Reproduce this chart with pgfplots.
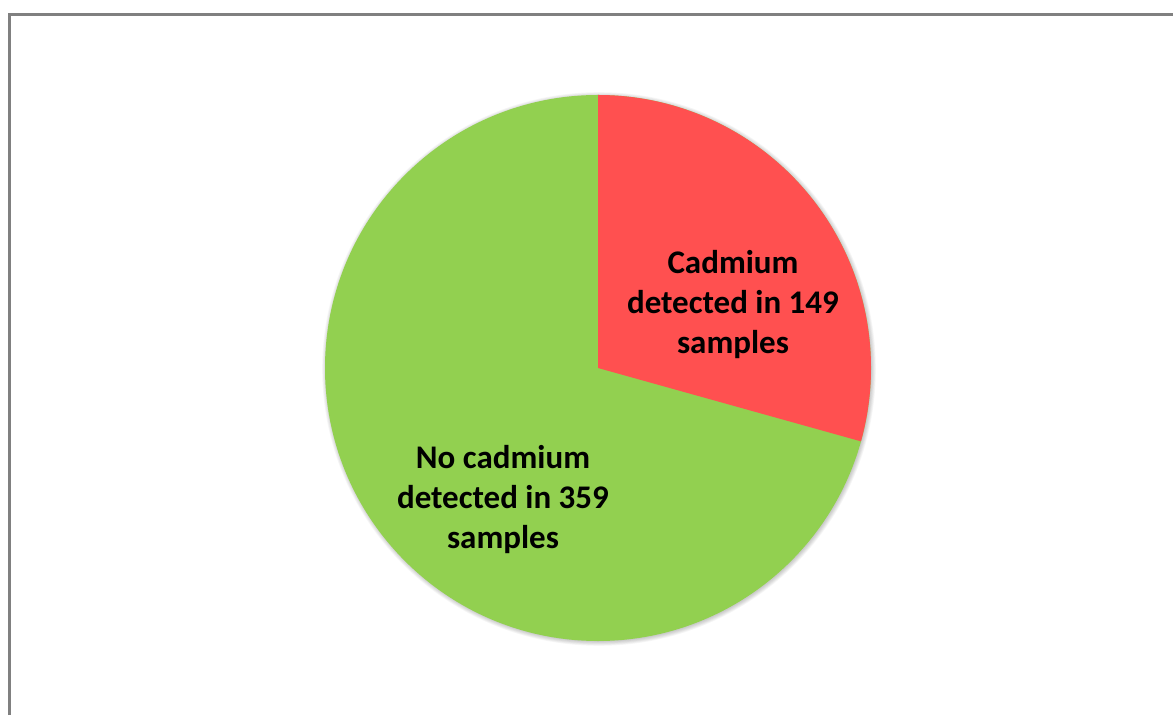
\documentclass[border=0pt]{standalone}
\usepackage{pgfplots}
\pgfplotsset{compat=1.18}
\usepackage{fontspec}
\setmainfont{Carlito}
\definecolor{cdred}{HTML}{FF5050}
\definecolor{cdgreen}{HTML}{92D050}
\definecolor{frame}{HTML}{808080}
\def\valA{149}
\def\valB{359}
\pgfmathsetmacro\angA{\valA/(\valA+\valB)*360}
\pgfmathsetmacro\endA{90-\angA}
\begin{document}
\begin{tikzpicture}
\begin{axis}[scale only axis, width=1173bp, height=715bp,
  xmin=0, xmax=1173, ymin=0, ymax=715, hide axis]
\fill[white] (axis cs:0,0) rectangle (axis cs:1173,715);
\draw[frame, line width=3bp] (axis cs:9.5,0) -- (axis cs:9.5,700.5) -- (axis cs:1173,700.5);
\pgfplotsinvokeforeach{1,...,6}{
  \fill[black, opacity=0.035] (axis cs:599,346) circle[radius={(272+#1*0.8)*1bp}];
}
\fill[cdgreen] (axis cs:598,347) circle[radius=273bp];
\fill[cdred] (axis cs:598,347) -- (axis cs:598,620) arc[start angle=90, end angle=\endA, radius=273bp] -- cycle;
\node[font=\fontsize{33bp}{40bp}\selectfont\bfseries, align=center, text=black] at (axis cs:733,410) {Cadmium\\detected in \valA\\samples};
\node[font=\fontsize{33bp}{40bp}\selectfont\bfseries, align=center, text=black] at (axis cs:503,215) {No cadmium\\detected in \valB\\samples};
\end{axis}
\end{tikzpicture}
\end{document}
